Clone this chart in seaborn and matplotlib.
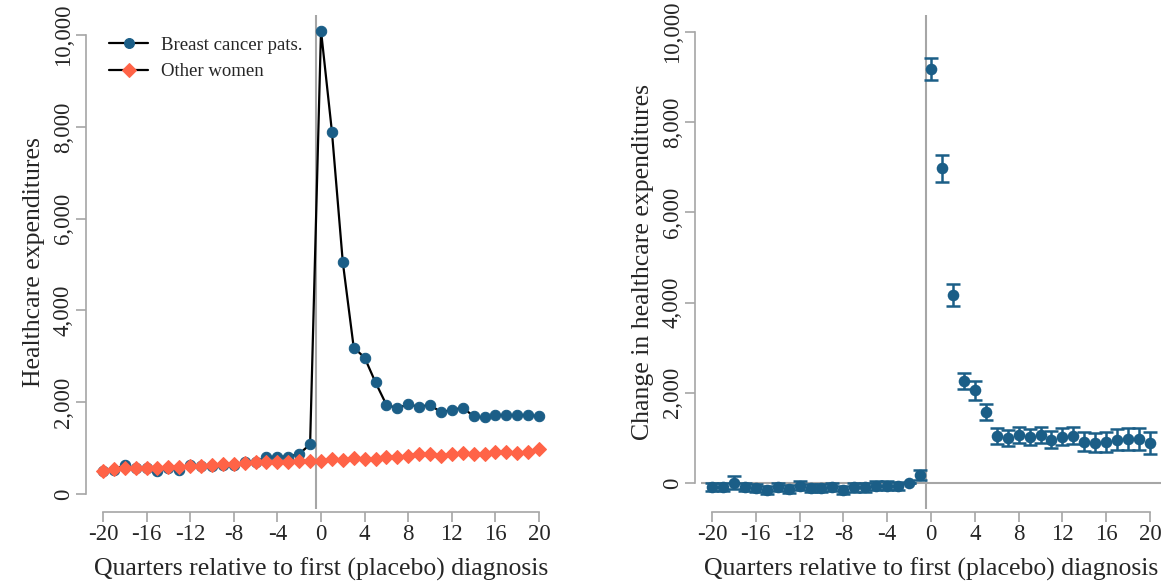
import matplotlib
matplotlib.use('Agg')
import matplotlib.pyplot as plt
import seaborn as sns
import numpy as np
import pandas as pd

# Quarters relative to first (placebo) diagnosis
quarters = list(range(-20, 21))

# Left panel: mean healthcare expenditures
breast_cancer = [490, 530, 620, 560, 570, 500, 570, 530, 620, 610,
                 610, 640, 620, 690, 700, 800, 810, 810, 870, 1080,
                 10100, 7900, 5050, 3190, 2970, 2430, 1940, 1870, 1950, 1900,
                 1940, 1780, 1830, 1880, 1690, 1665, 1710, 1720, 1710, 1720, 1690]
other_women = [500, 545, 560, 555, 560, 560, 595, 590, 615, 615,
               620, 645, 650, 670, 690, 700, 705, 705, 710, 720,
               720, 760, 730, 790, 760, 760, 800, 810, 835, 870,
               865, 830, 865, 900, 865, 865, 905, 905, 900, 905, 980]

# Right panel: estimated change with confidence intervals
change = [-90, -90, 5, -90, -110, -155, -90, -135, -60, -110,
          -110, -90, -155, -100, -100, -60, -60, -65, 0, 180,
          9180, 6980, 4170, 2265, 2050, 1570, 1040, 990, 1060, 1010,
          1060, 955, 1025, 1050, 915, 895, 915, 955, 970, 975, 880]
ci_half = [90, 90, 140, 90, 90, 95, 95, 95, 95, 95,
           95, 95, 95, 95, 95, 95, 95, 95, 0, 110,
           235, 295, 240, 180, 210, 180, 175, 175, 180, 180,
           185, 185, 190, 195, 210, 215, 220, 230, 240, 245, 250]

xticks = list(range(-20, 21, 4))
yticks = list(range(0, 10001, 2000))

df = pd.DataFrame({'quarter': quarters, 'breast': breast_cancer,
                   'other': other_women, 'change': change, 'ci': ci_half})

sns.set_style('white')
plt.rcParams['font.family'] = ['Liberation Serif', 'DejaVu Serif']

blue = '#1b5e87'
orange = '#ff6347'
gray = '#a6a6a6'

W, H = 1168, 586
fig = plt.figure(figsize=(W / 100, H / 100), dpi=100)


def add_ax(left, top, right, bottom):
    return fig.add_axes([left / W, 1 - bottom / H, (right - left) / W, (bottom - top) / H])


def style_axis(ax, xlabel, ylabel):
    for side in ['top', 'right']:
        ax.spines[side].set_visible(False)
    for side in ['left', 'bottom']:
        ax.spines[side].set_color(gray)
        ax.spines[side].set_linewidth(1.2)
    ax.spines['left'].set_position(('outward', 4))
    ax.spines['bottom'].set_position(('outward', 2))
    ax.spines['left'].set_bounds(0, 10000)
    ax.spines['bottom'].set_bounds(-20, 20)
    ax.set_xticks(xticks)
    ax.set_xticklabels([str(t) for t in xticks])
    ax.set_yticks(yticks)
    ax.set_yticklabels([f'{t:,}' for t in yticks], rotation=90, va='center')
    ax.tick_params(axis='both', direction='out', length=7, width=1.2, color=gray,
                   labelsize=16.5, pad=2)
    ax.tick_params(axis='x', bottom=True)
    ax.tick_params(axis='y', left=True)
    ax.set_xlabel(xlabel, fontsize=18.5, labelpad=9)
    ax.set_ylabel(ylabel, fontsize=18.5, labelpad=6)
    ax.grid(False)


# Left panel
ax1 = add_ax(92, 15, 550, 509)
ax1.set_xlim(-21, 21)
ax1.set_ylim(-330, 10440)
ax1.axvline(-0.5, color=gray, lw=1.5, zorder=1)
sns.lineplot(data=df, x='quarter', y='breast', ax=ax1, color='black', lw=1.6,
             marker='o', markersize=7.5, markerfacecolor=blue, markeredgecolor=blue,
             label='Breast cancer pats.', zorder=3)
sns.lineplot(data=df, x='quarter', y='other', ax=ax1, color='black', lw=1.6,
             marker='D', markersize=7, markerfacecolor=orange, markeredgecolor=orange,
             label='Other women', zorder=4)
style_axis(ax1, 'Quarters relative to first (placebo) diagnosis', 'Healthcare expenditures')
leg = ax1.legend(loc='upper left', bbox_to_anchor=(0.0, 0.99), frameon=False, fontsize=13.5,
                 handlelength=2.1, handletextpad=0.7, labelspacing=0.5, borderaxespad=0.5,
                 markerscale=0.95)

# Right panel
ax2 = add_ax(701, 15, 1161, 509)
ax2.set_xlim(-21, 21)
ax2.set_ylim(-580, 10380)
ax2.axvline(-0.5, color=gray, lw=1.5, zorder=1)
ax2.axhline(0, color=gray, lw=1.5, zorder=1)
ax2.errorbar(df['quarter'], df['change'], yerr=df['ci'], fmt='none', ecolor=blue,
             elinewidth=1.8, capsize=5, capthick=1.8, zorder=2)
sns.scatterplot(data=df, x='quarter', y='change', ax=ax2, color=blue, s=70,
                edgecolor=blue, linewidth=0, zorder=3)
style_axis(ax2, 'Quarters relative to first (placebo) diagnosis',
           'Change in healthcare expenditures')

fig.savefig('out.png', dpi=100)
